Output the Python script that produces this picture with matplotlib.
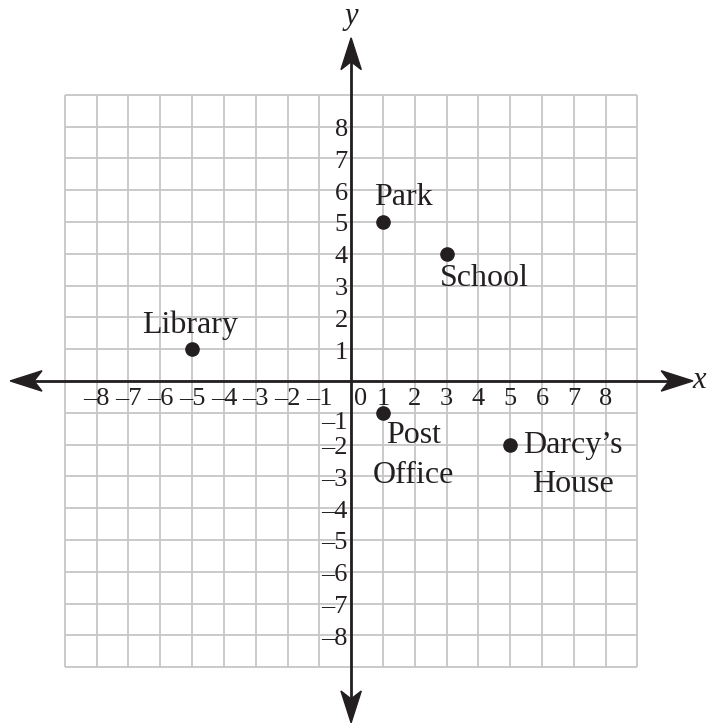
import matplotlib.pyplot as plt
import numpy as np
from matplotlib.patches import Polygon

# places on the map
names = ["Park", "School", "Library", "Post Office", "Darcy\u2019s House"]
xs = [1, 3, -5, 1, 5]
ys = [5, 4, 1, -1, -2]

# grid extent and tick values
grid_vals = np.arange(-9, 10)
tick_vals = [-8, -7, -6, -5, -4, -3, -2, -1, 1, 2, 3, 4, 5, 6, 7, 8]

ink = "#231f20"
serif = "Liberation Serif"

fig = plt.figure(figsize=(7.07, 7.25), dpi=100)
ax = fig.add_axes([0, 0, 1, 1])
ax.set_xlim(-11.04, 11.19)
ax.set_ylim(-10.82, 11.98)
ax.axis("off")

# light grid
ax.vlines(grid_vals, -9, 9, color="#c6c6c6", lw=1.3, zorder=1)
ax.hlines(grid_vals, -9, 9, color="#c6c6c6", lw=1.3, zorder=1)

# axes with arrowheads
ax.plot([-10.2, 10.2], [0, 0], color=ink, lw=2.0, zorder=3)
ax.plot([0, 0], [-10.2, 10.25], color=ink, lw=2.0, zorder=3)


def arrow_head(tip, direction):
    d = np.array(direction, float)
    n = np.array([-d[1], d[0]])
    tip = np.array(tip, float)
    back = tip - 1.0 * d
    notch = tip - 0.75 * d
    pts = [tip, back + 0.32 * n, notch, back - 0.32 * n]
    ax.add_patch(Polygon(pts, closed=True, color=ink, zorder=4))


arrow_head((-10.72, 0), (-1, 0))
arrow_head((10.75, 0), (1, 0))
arrow_head((0, 10.79), (0, 1))
arrow_head((0, -10.75), (0, -1))

ax.text(0, 11.45, "y", fontsize=22, style="italic", family=serif,
        ha="center", va="center", color=ink)
ax.text(11.15, 0, "x", fontsize=22, style="italic", family=serif,
        ha="right", va="center", color=ink)

# tick labels
for v in tick_vals:
    lab = str(v).replace("-", "\u2013")
    ax.text(v, -0.76, lab, fontsize=19, family=serif, ha="center",
            va="baseline", color=ink)
    yb = v - 0.3 if v != -1 else v - 0.5
    ax.text(-0.1, yb, lab, fontsize=19, family=serif, ha="right",
            va="baseline", color=ink)
ax.text(0.3, -0.76, "0", fontsize=19, family=serif, ha="center",
        va="baseline", color=ink)

# points
ax.plot(xs, ys, "o", color=ink, markersize=9.5, zorder=5)

# place labels: (x, baseline y, text)
label_pos = {
    "Park": [(1.64, 5.53, "Park")],
    "School": [(4.18, 2.99, "School")],
    "Library": [(-5.05, 1.51, "Library")],
    "Post Office": [(1.95, -1.95, "Post"), (1.95, -3.21, "Office")],
    "Darcy\u2019s House": [(6.98, -2.26, "Darcy\u2019s"), (6.98, -3.49, "House")],
}
for name in names:
    for lx, ly, txt in label_pos[name]:
        ax.text(lx, ly, txt, fontsize=23, family=serif, ha="center",
                va="baseline", color=ink, zorder=6)

fig.savefig("out.png", dpi=100)
